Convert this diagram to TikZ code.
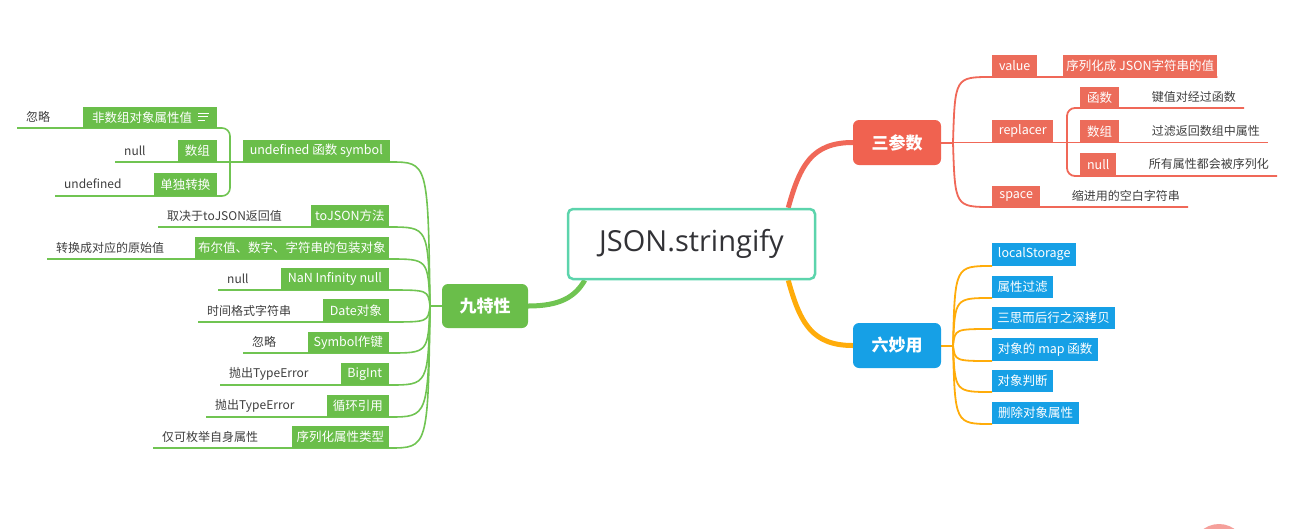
\documentclass[tikz,border=0pt]{standalone}
\usepackage{fontspec}
\setmainfont{Open Sans}
\newfontfamily\cjk{Noto Sans CJK SC}
\newfontfamily\titlefont{Open Sans}
\usetikzlibrary{calc}
\definecolor{gfill}{RGB}{106,190,74}
\definecolor{gline}{RGB}{112,196,82}
\definecolor{rfill}{RGB}{236,108,90}
\definecolor{rmain}{RGB}{240,98,80}
\definecolor{rline}{RGB}{240,104,88}
\definecolor{bfill}{RGB}{22,160,230}
\definecolor{oline}{RGB}{255,172,10}
\definecolor{mint}{RGB}{92,212,172}
\definecolor{txt}{RGB}{62,62,62}
\definecolor{ttl}{RGB}{50,50,54}
\definecolor{blob}{RGB}{245,160,155}
\pgfdeclarelayer{bg}
\pgfsetlayers{bg,main}
\tikzset{
  gbox/.style={fill=gfill, text=white, minimum height=22pt, inner xsep=0pt, inner ysep=0pt, font=\cjk\fontsize{12.5}{14}\selectfont},
  rbox/.style={gbox, fill=rfill},
  bbox/.style={gbox, fill=bfill},
  lbl/.style={text=txt, inner xsep=9pt, inner ysep=0pt, font=\cjk\fontsize{12}{14}\selectfont},
  hub/.style={rounded corners=6pt, text=white, minimum width=88pt, minimum height=45pt, inner sep=0pt, font=\cjk\bfseries\fontsize{17}{20}\selectfont},
  gl/.style={draw=gline, line width=1.6pt},
  rl/.style={draw=rline, line width=1.8pt},
  ol/.style={draw=oline, line width=1.8pt},
  thick line/.style={line width=5pt}
}
\begin{document}
\begin{tikzpicture}[x=1pt,y=-1pt]
\useasboundingbox (0,0) rectangle (1298,528);
% ---------- centre and hubs
\node[draw=mint, line width=2.5pt, fill=white, rounded corners=5pt, minimum width=247pt, minimum height=70pt, text=ttl, font=\titlefont\fontsize{29}{34}\selectfont] (c) at (691.5,244) {JSON.stringify};
\node[hub, fill=rmain] (s3) at (897,142.5) {三参数};
\node[hub, fill=bfill] (s6) at (897,345.5) {六妙用};
\node[hub, fill=gfill, minimum width=86pt, minimum height=44pt] (s9) at (485,306) {九特性};
\coordinate (p3) at (953,142.5);
\coordinate (p6) at (953,345.5);
\coordinate (p9) at (430,306);
% ---------- red branch
\node[rbox, anchor=south west, minimum width=45pt] (val) at (992,77) {value};
\node[rbox, anchor=south west, minimum width=154pt] (valt) at (1063,77) {序列化成 JSON字符串的值};
\node[rbox, anchor=south west, minimum width=61pt] (rep) at (992,142.5) {replacer};
\node[rbox, anchor=south west, minimum width=39pt, minimum height=21pt] (fn) at (1080,108) {函数};
\node[rbox, anchor=south west, minimum width=39pt] (arr) at (1080,142.5) {数组};
\node[rbox, anchor=south west, minimum width=36pt, minimum height=23pt] (nul) at (1080,176) {null};
\node[rbox, anchor=south west, minimum width=48pt, minimum height=21pt] (spc) at (992,207) {space};
\node[lbl, anchor=east, inner xsep=8pt] (fnt) at (1244,97) {键值对经过函数};
\node[lbl, anchor=east, inner xsep=8pt] (arrt) at (1268,131) {过滤返回数组中属性};
\node[lbl, anchor=east, inner xsep=8pt] (nult) at (1277,164) {所有属性都会被序列化};
\node[lbl, anchor=east, inner xsep=8pt] (spct) at (1188,196) {缩进用的空白字符串};
\coordinate (rb) at (1067,176);
% ---------- blue branch
\node[bbox, anchor=south west, minimum width=84pt, minimum height=23pt] (b1) at (992,266) {localStorage};
\node[bbox, anchor=south west, minimum width=61pt] (b2) at (992,298) {属性过滤};
\node[bbox, anchor=south west, minimum width=123pt] (b3) at (992,329) {三思而后行之深拷贝};
\node[bbox, anchor=south west, minimum width=106pt, minimum height=23pt] (b4) at (992,361) {对象的 map 函数};
\node[bbox, anchor=south west, minimum width=61pt] (b5) at (992,392) {对象判断};
\node[bbox, anchor=south west, minimum width=87pt] (b6) at (992,424) {删除对象属性};
% ---------- green branch
\node[gbox, anchor=south west, minimum width=134pt, minimum height=21pt, inner xsep=9pt, text width=116pt, align=left] (g1) at (83,128) {非数组对象属性值};
\draw[white, line width=1pt] (198,113) -- (209,113) (198,116.5) -- (208,116.5) (198,120) -- (205,120);
\node[gbox, anchor=south east, minimum width=39pt] (g2) at (217,162) {数组};
\node[gbox, anchor=south east, minimum width=63pt, minimum height=23pt] (g3) at (217,196) {单独转换};
\node[gbox, anchor=south east, minimum width=147pt] (gu) at (390,162) {undefined 函数 symbol};
\node[gbox, anchor=south east, minimum width=78pt] (g4) at (389,227) {toJSON方法};
\node[gbox, anchor=south east, minimum width=194pt] (g5) at (389,259) {布尔值、数字、字符串的包装对象};
\node[gbox, anchor=south east, minimum width=108pt] (g6) at (389,290) {NaN Infinity null};
\node[gbox, anchor=south east, minimum width=66pt, minimum height=23pt] (g7) at (389,322) {Date对象};
\node[gbox, anchor=south east, minimum width=81pt, minimum height=21pt] (g8) at (389,353) {Symbol作键};
\node[gbox, anchor=south east, minimum width=48pt] (g9) at (389,385) {BigInt};
\node[gbox, anchor=south east, minimum width=62pt] (g10) at (389,417) {循环引用};
\node[gbox, anchor=south east, minimum width=97pt] (g11) at (389,448) {序列化属性类型};
\node[lbl, anchor=west] (l1) at (17,116.5) {忽略};
\node[lbl, anchor=west] (l2) at (115,150.5) {null};
\node[lbl, anchor=west] (l3) at (55,184) {undefined};
\node[lbl, anchor=west] (l4) at (158,215.5) {取决于toJSON返回值};
\node[lbl, anchor=west] (l5) at (47,247.5) {转换成对应的原始值};
\node[lbl, anchor=west] (l6) at (218,278.5) {null};
\node[lbl, anchor=west] (l7) at (198,310.5) {时间格式字符串};
\node[lbl, anchor=west] (l8) at (243,342) {忽略};
\node[lbl, anchor=west] (l9) at (220,373.5) {抛出TypeError};
\node[lbl, anchor=west] (l10) at (206,405.5) {抛出TypeError};
\node[lbl, anchor=west] (l11) at (153,436.5) {仅可枚举自身属性};
\coordinate (gb) at (230,196);
% ---------- connectors
\begin{pgfonlayer}{bg}
\draw[thick line, draw=rline] ([xshift=-28pt]c.north east) .. controls (800,165) and (812,142.5) .. (s3.west);
\draw[thick line, draw=oline] ([xshift=-28pt]c.south east) .. controls (800,323) and (812,345.5) .. (s6.west);
\draw[thick line, draw=gline] ([xshift=18pt]c.south west) .. controls (575,297) and (560,306) .. (s9.east);
% red
\draw[rl, line width=2pt] (s3.east) -- (p3);
\draw[rl] (p3) .. controls (955,77) .. (val.south west) -- (valt.south east);
\draw[rl] (p3) -- (rep.south west) -- (arrt.east |- arr.south);
\draw[rl] (p3) .. controls (955,207) .. (spc.south west) -- (spct.east |- spc.south);
\draw[rl, rounded corners=8pt] (fnt.east |- fn.south) -| (rb) -- (nult.east |- nul.south);
% orange
\draw[ol, line width=2pt] (s6.east) -- (p6);
\foreach \n/\y in {b1/266, b2/298, b3/329, b4/361, b5/392, b6/424}
  \draw[ol] (p6) .. controls (955,\y) .. (\n.south west);
% green
\draw[gl, line width=2pt] (s9.west) -- (p9);
\foreach \n/\y in {gu/162, g4/227, g5/259, g6/290, g7/322, g8/353, g9/385, g10/417, g11/448}
  \draw[gl] (p9) .. controls (428,\y) .. (\n.south east);
\foreach \n/\l in {g4/l4, g5/l5, g6/l6, g7/l7, g8/l8, g9/l9, g10/l10, g11/l11}
  \draw[gl] (\l.west |- \n.south) -- (\n.south east);
\draw[gl, rounded corners=8pt] (l1.west |- g1.south) -| (gb) -- (l3.west |- g3.south);
\draw[gl] (l2.west |- g2.south) -- (gu.south east);
\end{pgfonlayer}
% ---------- partial blob at bottom right
\begin{scope}
\clip (0,0) rectangle (1298,528);
\fill[blob] (1219,550.5) circle (26.5);
\end{scope}
\end{tikzpicture}
\end{document}
